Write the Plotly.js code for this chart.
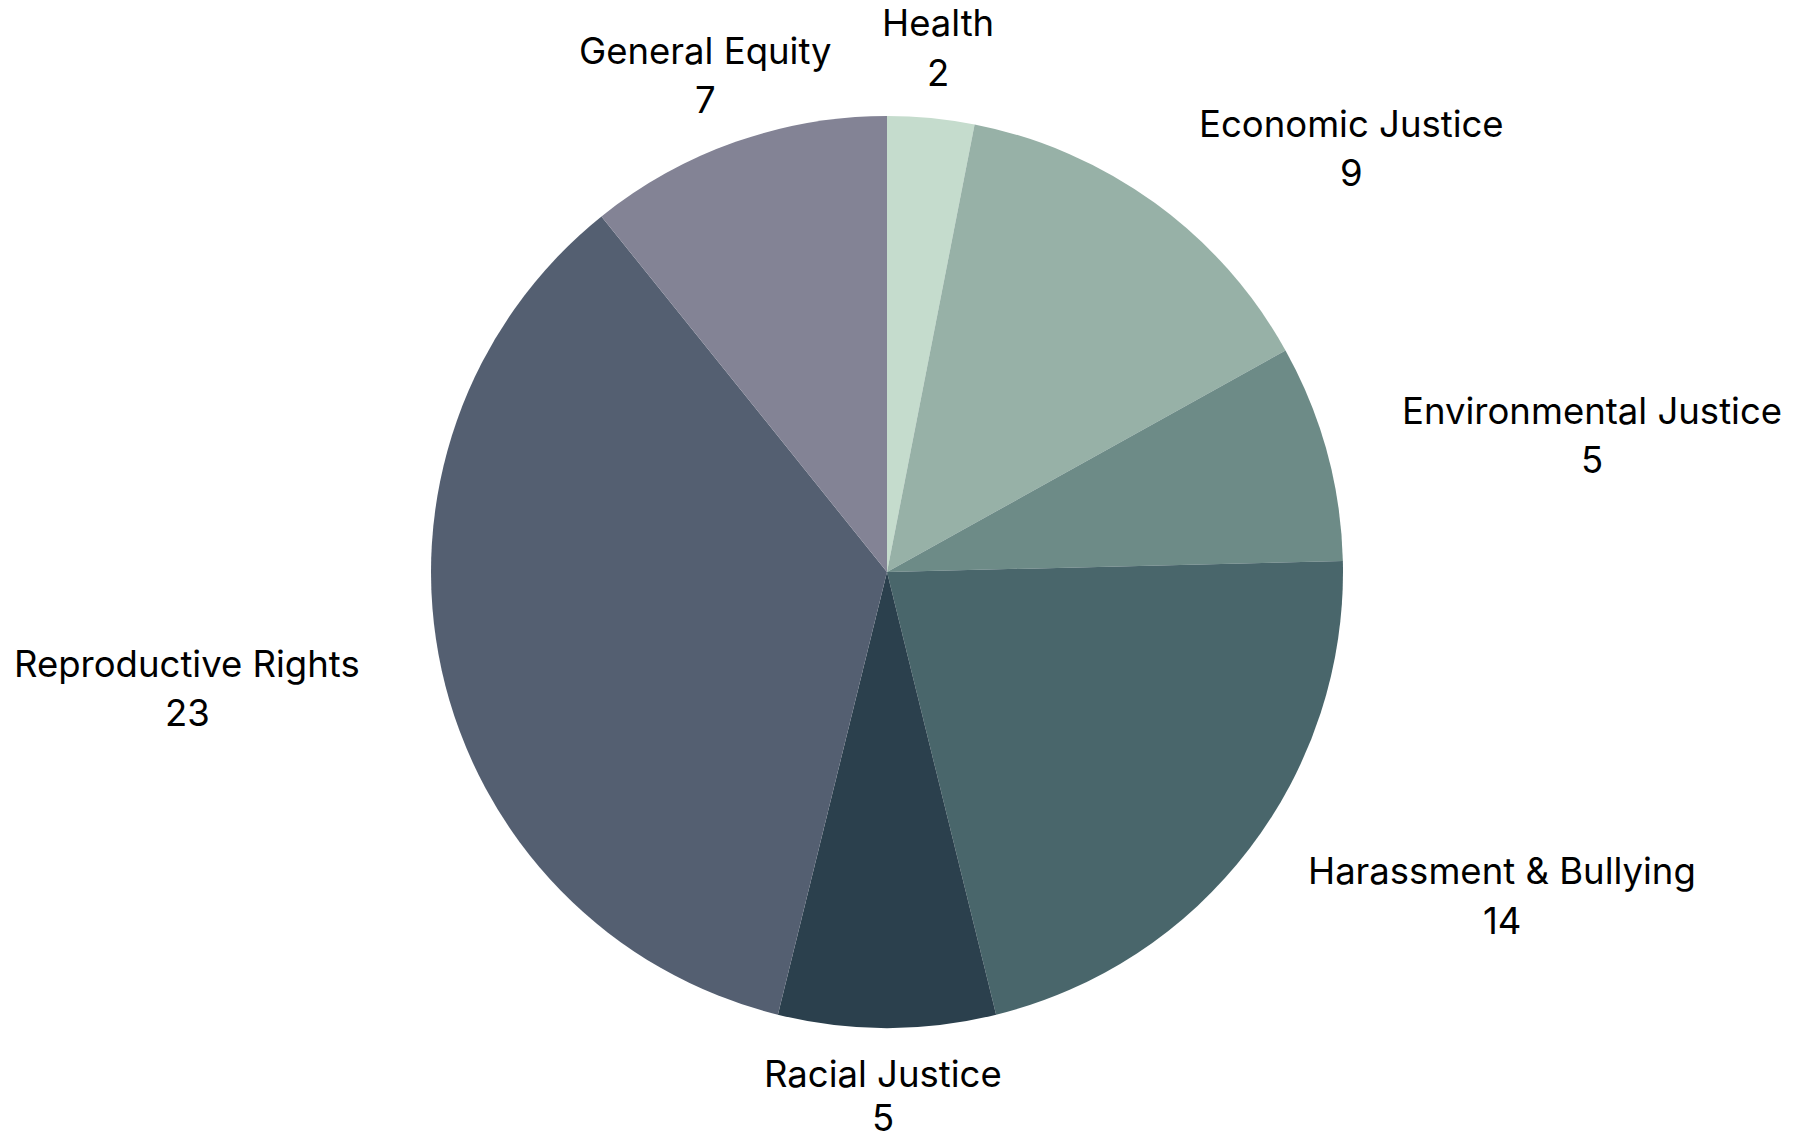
<!DOCTYPE html>
<html>
<head>
<meta charset="utf-8">
<script src="https://cdn.plot.ly/plotly-3.0.1.min.js"></script>
<style>html,body{margin:0;padding:0;background:#fff;}#chart{width:1807px;height:1142px;}</style>
</head>
<body>
<div id="chart"></div>
<script>
const categories = ["Health", "Economic Justice", "Environmental Justice", "Harassment & Bullying", "Racial Justice", "Reproductive Rights", "General Equity"];
const counts = [2, 9, 5, 14, 5, 23, 7];
const sliceColors = ["#c5dccd", "#97b1a7", "#6d8b87", "#49666b", "#2b404d", "#545f71", "#838395"];

// label placement (pixel centre x, baseline of name line, baseline of value line)
const labelCenterX = [938, 1351, 1592, 1502, 883, 187, 705];
const nameBaseline = [36, 137, 424, 884, 1087, 677, 64];
const valueBaseline = [86, 186, 473, 934, 1131, 726, 113];

const W = 1807, H = 1142;
const M = {l: 0, r: 33, t: 116, b: 114};
const plotW = W - M.l - M.r, plotH = H - M.t - M.b;
const FONT = {family: "Inter, Roboto, sans-serif", size: 36.5, color: "#000000"};
const toPX = px => (px - M.l) / plotW;
const toPY = (py) => (H - M.b - (py - 0.35 * FONT.size)) / plotH;

const annotations = [];
categories.forEach((name, i) => {
  annotations.push({
    xref: "paper", yref: "paper",
    x: toPX(labelCenterX[i]), y: toPY(nameBaseline[i]),
    xanchor: "center", yanchor: "middle",
    text: name, showarrow: false, font: FONT
  });
  annotations.push({
    xref: "paper", yref: "paper",
    x: toPX(labelCenterX[i]), y: toPY(valueBaseline[i]),
    xanchor: "center", yanchor: "middle",
    text: String(counts[i]), showarrow: false, font: FONT
  });
});

const trace = {
  type: "pie",
  labels: categories,
  values: counts,
  sort: false,
  direction: "clockwise",
  rotation: 0,
  marker: {colors: sliceColors, line: {width: 0}},
  textinfo: "none",
  hoverinfo: "label+value",
  showlegend: false,
  automargin: false
};

const layout = {
  width: W,
  height: H,
  margin: M,
  paper_bgcolor: "#ffffff",
  plot_bgcolor: "#ffffff",
  showlegend: false,
  annotations: annotations
};

Plotly.newPlot("chart", [trace], layout, {displayModeBar: false, staticPlot: true});
</script>
</body>
</html>
